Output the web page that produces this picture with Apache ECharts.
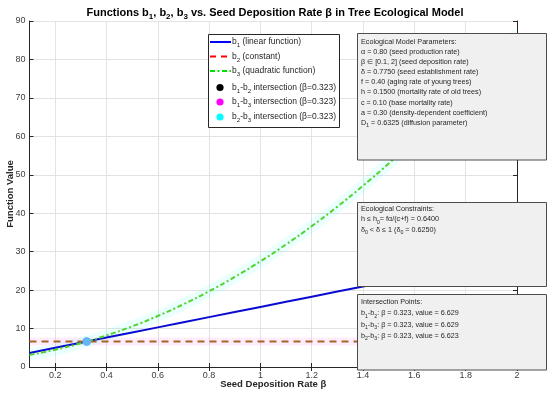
<!DOCTYPE html>
<html><head><meta charset="utf-8">
<script src="https://cdn.jsdelivr.net/npm/echarts@6/dist/echarts.min.js"></script>
<style>html,body{margin:0;padding:0;background:#fff}#c{width:550px;height:396px}</style>
</head><body><div id="c"></div>
<script>
// ---- data ----
const betaValues = [0.1,0.2,0.3,0.4,0.5,0.6,0.7,0.8,0.9,1.0,1.1,1.2,1.3,1.4,1.5,1.6,1.7,1.8,1.9,2.0];
const b1Values = [3.66,4.99,6.32,7.65,8.98,10.31,11.64,12.97,14.30,15.63,16.96,18.29,19.62,20.95,22.28,23.61,24.94,26.27,27.60,28.93];
const b2Values = [6.63,6.63,6.63,6.63,6.63,6.63,6.63,6.63,6.63,6.63,6.63,6.63,6.63,6.63,6.63,6.63,6.63,6.63,6.63,6.63];
const b3Values = [3.15,4.50,6.18,8.21,10.57,13.27,16.32,19.70,23.43,27.49,31.89,36.64,41.72,47.15,52.91,59.01,65.46,72.24,79.37,86.83];
const intersectBeta = [0.323, 0.323, 0.323];
const intersectValue = [6.629, 6.629, 6.623];
const xTicks = [0.2,0.4,0.6,0.8,1.0,1.2,1.4,1.6,1.8,2.0];

const pairs = v => betaValues.map((b, i) => [b, v[i]]);
const FONT = 'Liberation Sans, Arial, sans-serif';

const chart = echarts.init(document.getElementById('c'), null, {renderer: 'canvas'});

function txt(x, y, text, size, extra) {
  return Object.assign({
    type: 'text', z: 120, x: x, y: y,
    style: {
      text: text, fontFamily: FONT, fontSize: size, fill: '#262626',
      verticalAlign: 'middle', lineHeight: size * 1.5,
      rich: { s: { fontSize: size * 0.72, fontFamily: FONT, fill: '#262626', verticalAlign: 'bottom', lineHeight: size * 1.5 } }
    }
  }, extra || {});
}

const graphics = [];
// legend box
graphics.push({ type: 'rect', z: 110, shape: { x: 208.5, y: 34.5, width: 131, height: 93 }, style: { fill: '#fff', stroke: '#262626', lineWidth: 1 } });
const legY = [42, 56.5, 71, 87.5, 102, 117];
graphics.push({ type: 'line', z: 115, shape: { x1: 210, y1: legY[0], x2: 231, y2: legY[0] }, style: { stroke: '#0000ff', lineWidth: 2 } });
graphics.push({ type: 'line', z: 115, shape: { x1: 210, y1: legY[1], x2: 231, y2: legY[1] }, style: { stroke: '#ff0000', lineWidth: 2, lineDash: [6, 5] } });
graphics.push({ type: 'line', z: 115, shape: { x1: 210, y1: legY[2], x2: 231, y2: legY[2] }, style: { stroke: '#00e000', lineWidth: 2, lineDash: [5, 2.5, 2, 2.5] } });
graphics.push({ type: 'circle', z: 115, shape: { cx: 220, cy: legY[3], r: 3.6 }, style: { fill: '#000' } });
graphics.push({ type: 'circle', z: 115, shape: { cx: 220, cy: legY[4], r: 3.6 }, style: { fill: '#ff00ff' } });
graphics.push({ type: 'circle', z: 115, shape: { cx: 220, cy: legY[5], r: 3.6 }, style: { fill: '#00ffff' } });
const legTexts = [
  'b{s|1} (linear function)',
  'b{s|2} (constant)',
  'b{s|3} (quadratic function)',
  'b{s|1}-b{s|2} intersection (β=0.323)',
  'b{s|1}-b{s|3} intersection (β=0.323)',
  'b{s|2}-b{s|3} intersection (β=0.323)'
];
legTexts.forEach((t, i) => graphics.push(txt(232, legY[i], t, 8.5)));

// text boxes
graphics.push({ type: 'rect', z: 110, shape: { x: 357.5, y: 33.5, width: 189, height: 126.5 }, style: { fill: '#f0f0f0', stroke: '#4d4d4d', lineWidth: 1 } });
graphics.push({ type: 'rect', z: 110, shape: { x: 357.5, y: 202.5, width: 189, height: 84 }, style: { fill: '#f0f0f0', stroke: '#4d4d4d', lineWidth: 1 } });
graphics.push({ type: 'rect', z: 110, shape: { x: 357.5, y: 294.5, width: 189, height: 75.5 }, style: { fill: '#f0f0f0', stroke: '#4d4d4d', lineWidth: 1 } });

const box1 = [
  'Ecological Model Parameters:',
  'α = 0.80 (seed production rate)',
  'β ∈ [0.1, 2] (seed deposition rate)',
  'δ = 0.7750 (seed establishment rate)',
  'f = 0.40 (aging rate of young trees)',
  'h = 0.1500 (mortality rate of old trees)',
  'c = 0.10 (base mortality rate)',
  'a = 0.30 (density-dependent coefficient)',
  'D{s|1} = 0.6325 (diffusion parameter)'
];
box1.forEach((t, i) => graphics.push(txt(361, 42 + i * 10.1, t, 7.2)));
const box2 = [
  'Ecological Constraints:',
  'h ≤ h{s|0}= fα/(c+f) = 0.6400',
  'δ{s|0} < δ ≤ 1 (δ{s|0} = 0.6250)'
];
box2.forEach((t, i) => graphics.push(txt(361, 209 + i * 10.3, t, 7.2)));
const box3 = [
  'Intersection Points:',
  'b{s|1}-b{s|2}: β = 0.323, value = 6.629',
  'b{s|1}-b{s|3}: β = 0.323, value = 6.629',
  'b{s|2}-b{s|3}: β = 0.323, value = 6.623'
];
box3.forEach((t, i) => graphics.push(txt(361, 302 + i * 11.3, t, 7.2)));

const axisCommon = {
  axisLine: { show: true, lineStyle: { color: '#262626', width: 1 } },
  axisTick: { show: true, inside: true, length: 4, lineStyle: { color: '#262626' } },
};

const option = {
  animation: false,
  backgroundColor: '#fff',
  title: {
    text: '{t|Functions b}{s|1}{t|, b}{s|2}{t|, b}{s|3}{t| vs. Seed Deposition Rate β in Tree Ecological Model}',
    left: 'center', top: -1,
    textStyle: {
      rich: {
        t: { fontFamily: FONT, fontSize: 11, fontWeight: 'bold', color: '#000', lineHeight: 17 },
        s: { fontFamily: FONT, fontSize: 8, fontWeight: 'bold', color: '#000', verticalAlign: 'bottom', lineHeight: 17 }
      }
    }
  },
  grid: { left: 29.5, right: 33, top: 21, bottom: 29, containLabel: false, outerBoundsMode: 'none' },
  xAxis: [{
    type: 'value', min: 0.1, max: 2, position: 'bottom',
    name: 'Seed Deposition Rate β', nameLocation: 'middle', nameGap: 12, nameMoveOverlap: false,
    nameTextStyle: { fontFamily: FONT, fontSize: 9.5, fontWeight: 'bold', color: '#262626' },
    axisLine: axisCommon.axisLine,
    axisTick: Object.assign({}, axisCommon.axisTick, { customValues: xTicks }),
    axisLabel: { customValues: xTicks, fontFamily: FONT, fontSize: 9, color: '#404040', margin: 4, formatter: v => String(+v.toFixed(1)) },
    splitLine: { show: true, lineStyle: { color: '#e3e3e3', width: 1 } }
  }, {
    type: 'value', min: 0.1, max: 2, position: 'top',
    axisLine: axisCommon.axisLine,
    axisTick: Object.assign({}, axisCommon.axisTick, { customValues: xTicks }),
    axisLabel: { show: false }, splitLine: { show: false }
  }],
  yAxis: [{
    type: 'value', min: 0, max: 90, interval: 10, position: 'left',
    name: 'Function Value', nameLocation: 'middle', nameGap: 14, nameMoveOverlap: false,
    nameTextStyle: { fontFamily: FONT, fontSize: 9.5, fontWeight: 'bold', color: '#262626' },
    axisLine: axisCommon.axisLine, axisTick: axisCommon.axisTick,
    axisLabel: { fontFamily: FONT, fontSize: 9, color: '#404040', margin: 4 },
    splitLine: { show: true, lineStyle: { color: '#e3e3e3', width: 1 } }
  }, {
    type: 'value', min: 0, max: 90, interval: 10, position: 'right',
    axisLine: axisCommon.axisLine, axisTick: axisCommon.axisTick,
    axisLabel: { show: false }, splitLine: { show: false }
  }],
  series: [
    { type: 'line', name: 'b3band', data: pairs(b3Values), smooth: true, showSymbol: false, silent: true, z: 1,
      lineStyle: { color: 'rgba(0,255,255,0.08)', width: 12 } },
    { type: 'line', name: 'b2band', data: pairs(b2Values), showSymbol: false, silent: true, z: 1,
      lineStyle: { color: 'rgba(255,0,200,0.07)', width: 8 } },
    { type: 'line', name: 'b1', data: pairs(b1Values), showSymbol: false, z: 3,
      lineStyle: { color: '#0a0ad2', width: 2 } },
    { type: 'line', name: 'b2', data: pairs(b2Values), showSymbol: false, z: 3,
      lineStyle: { color: '#a5652a', width: 2, type: [7, 5] } },
    { type: 'line', name: 'b3', data: pairs(b3Values), smooth: true, showSymbol: false, z: 4,
      lineStyle: { color: '#4fd42e', width: 2, type: [5, 2.5, 2, 2.5] } },
    { type: 'scatter', name: 'intersections', z: 6, symbolSize: 8,
      data: intersectBeta.map((b, i) => [b, intersectValue[i]]),
      itemStyle: { color: '#62b6f2', opacity: 1 } }
  ],
  graphic: graphics
};
chart.setOption(option);
</script>
</body></html>
